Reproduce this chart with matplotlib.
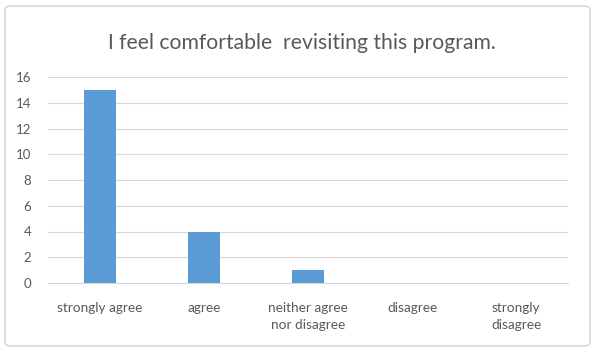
import matplotlib.pyplot as plt
from matplotlib.patches import FancyBboxPatch

categories = ['strongly agree', 'agree', 'neither agree\nnor disagree', 'disagree', 'strongly\ndisagree']
counts = [15, 4, 1, 0, 0]
yticks = [0, 2, 4, 6, 8, 10, 12, 14, 16]

plt.rcParams['font.family'] = ['Lato', 'DejaVu Sans']
text_col = '#595959'

fig = plt.figure(figsize=(5.93, 3.51), dpi=100)
ax = fig.add_axes([48/593, 1-283/351, 520/593, 206/351])

x = range(len(categories))
ax.bar(x, counts, width=0.31, color='#5B9BD5', zorder=3)

ax.set_xlim(-0.5, len(categories)-0.5)
ax.set_ylim(0, 16)
ax.set_yticks(yticks)
ax.set_xticks(list(x))
ax.set_xticklabels(categories, fontsize=9.8, color=text_col, linespacing=1.45)
ax.tick_params(axis='y', labelsize=9.5, labelcolor=text_col, length=0, pad=12)
ax.tick_params(axis='x', length=0, pad=14)
ax.grid(axis='y', color='#D9D9D9', linewidth=0.8, zorder=0)
for s in ['top', 'right', 'left']:
    ax.spines[s].set_visible(False)
ax.spines['bottom'].set_color('#D9D9D9')
ax.spines['bottom'].set_linewidth(0.8)

fig.text(302/593, 1-43/351, 'I feel comfortable  revisiting this program.',
         ha='center', va='center', fontsize=15.2, color=text_col)

# light border around the chart
border = FancyBboxPatch((5/593, 5/351), 585/593, 340/351,
                        boxstyle='round,pad=0,rounding_size=0.01',
                        transform=fig.transFigure, fill=False,
                        edgecolor='#D0D0D0', linewidth=1.0)
fig.patches.append(border)

plt.savefig('out.png', dpi=100)
